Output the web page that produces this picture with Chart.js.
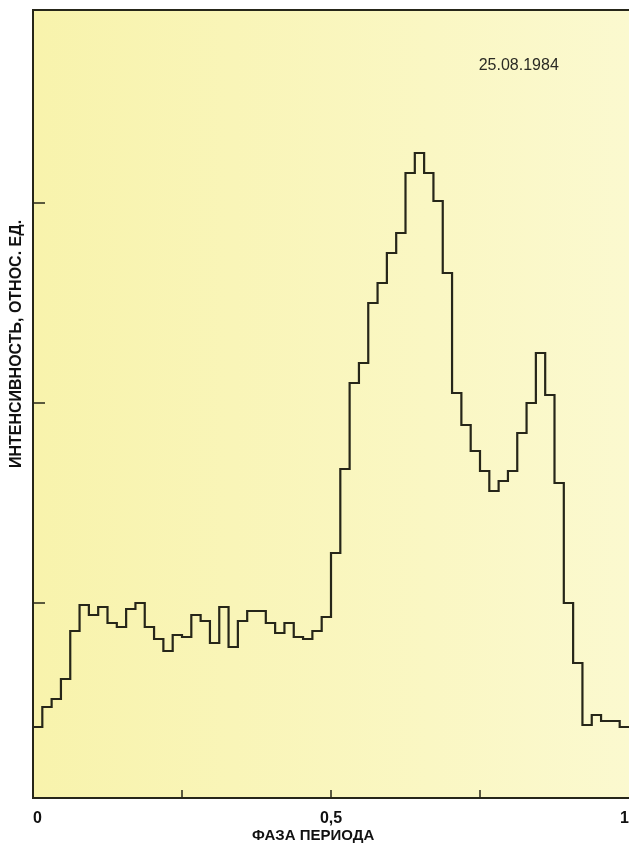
<!DOCTYPE html>
<html>
<head>
<meta charset="utf-8">
<style>
  html, body { margin: 0; padding: 0; background: #ffffff; }
  #wrap { width: 629px; height: 845px; }
</style>
<script src="https://cdn.jsdelivr.net/npm/chart.js@4.4.1/dist/chart.umd.min.js"></script>
</head>
<body>
<div id="wrap"><canvas id="phaseChart" width="629" height="845"></canvas></div>
<script>
// 64 phase bins over one period
const binCount = 64;

// relative intensity, bins 0..31 (phase 0 - 0.5)
const intensityFirstHalf = [
  0.38, 0.48, 0.52, 0.62, 0.86, 0.99, 0.94, 0.98,
  0.90, 0.88, 0.97, 1.00, 0.88, 0.82, 0.76, 0.84,
  0.83, 0.94, 0.91, 0.80, 0.98, 0.78, 0.91, 0.96,
  0.96, 0.90, 0.85, 0.90, 0.83, 0.82, 0.86, 0.93
];

// relative intensity, bins 32..63 (phase 0.5 - 1)
const intensitySecondHalf = [
  1.25, 1.67, 2.10, 2.20, 2.50, 2.60, 2.75, 2.85,
  3.15, 3.25, 3.15, 3.01, 2.65, 2.05, 1.89, 1.76,
  1.66, 1.56, 1.61, 1.66, 1.85, 2.00, 2.25, 2.04,
  1.60, 1.00, 0.70, 0.39, 0.44, 0.41, 0.41, 0.38
];

const xTickLabels = { 0: '0', 0.5: '0,5', 1: '1' };
const xTickMarks = [0.25, 0.5, 0.75];
const yTickMarks = [1, 2, 3];

const dateLabel = '25.08.1984';
const xTitle = 'ФАЗА ПЕРИОДА';
const yTitle = 'ИНТЕНСИВНОСТЬ, ОТНОС. ЕД.';

const intensity = intensityFirstHalf.concat(intensitySecondHalf);
const points = intensity.map((v, i) => ({ x: i / binCount, y: v }));
points.push({ x: 1, y: intensity[intensity.length - 1] });

const ink = '#262619';
const fontFamily = '"Liberation Sans", Arial, sans-serif';

const framePlugin = {
  id: 'frame',
  beforeDraw(chart) {
    const { ctx, chartArea: a } = chart;
    const g = ctx.createLinearGradient(a.left, 0, a.right, 0);
    g.addColorStop(0, '#f8f3ac');
    g.addColorStop(1, '#fbf9cf');
    ctx.save();
    ctx.fillStyle = g;
    ctx.fillRect(a.left, a.top, chart.width - a.left, a.bottom - a.top);
    ctx.restore();
  },
  afterDraw(chart) {
    const { ctx, chartArea: a, scales } = chart;
    ctx.save();
    ctx.strokeStyle = ink;
    ctx.lineWidth = 2;
    // top frame line
    ctx.beginPath();
    ctx.moveTo(a.left, a.top);
    ctx.lineTo(chart.width, a.top);
    ctx.stroke();
    // inward tick marks
    ctx.lineWidth = 1.5;
    yTickMarks.forEach(v => {
      const y = scales.y.getPixelForValue(v);
      ctx.beginPath();
      ctx.moveTo(a.left, y);
      ctx.lineTo(a.left + 12, y);
      ctx.stroke();
    });
    xTickMarks.forEach(v => {
      const x = scales.x.getPixelForValue(v);
      ctx.beginPath();
      ctx.moveTo(x, a.bottom);
      ctx.lineTo(x, a.bottom - 8);
      ctx.stroke();
    });
    // date label
    ctx.fillStyle = '#2a2a24';
    ctx.font = '16px ' + fontFamily;
    ctx.textAlign = 'center';
    ctx.textBaseline = 'middle';
    ctx.fillText(dateLabel, scales.x.getPixelForValue(0.815), 66);
    // x axis title, set slightly left of centre as in the original
    ctx.fillStyle = '#111111';
    ctx.font = 'bold 15px ' + fontFamily;
    ctx.fillText(xTitle, scales.x.getPixelForValue(0.47), 836);
    // y axis title
    ctx.font = 'bold 16px ' + fontFamily;
    ctx.translate(17, 344);
    ctx.rotate(-Math.PI / 2);
    ctx.fillText(yTitle, 0, 0);
    ctx.restore();
  }
};

new Chart(document.getElementById('phaseChart').getContext('2d'), {
  type: 'line',
  data: {
    datasets: [{
      data: points,
      stepped: 'before',
      borderColor: ink,
      borderWidth: 2.2,
      pointRadius: 0,
      fill: false
    }]
  },
  options: {
    responsive: false,
    animation: false,
    layout: { padding: { left: 33, top: 10, right: 0, bottom: 0 } },
    plugins: {
      legend: { display: false },
      tooltip: { enabled: false }
    },
    scales: {
      x: {
        type: 'linear',
        min: 0,
        max: 1,
        grid: { display: false, drawTicks: false },
        border: { display: true, color: ink, width: 2 },
        ticks: {
          stepSize: 0.25,
          padding: 11,
          align: 'inner',
          color: '#111111',
          font: { family: fontFamily, size: 16, weight: 'bold' },
          maxRotation: 0,
          callback: v => (v in xTickLabels ? xTickLabels[v] : '')
        },
        afterFit(scale) {
          scale.height = 47;
          scale.paddingLeft = 0;
          scale.paddingRight = 0;
        }
      },
      y: {
        min: 0.025,
        max: 3.965,
        grid: { display: false, drawTicks: false },
        border: { display: true, color: ink, width: 2 },
        ticks: { display: false }
      }
    }
  },
  plugins: [framePlugin]
});
</script>
</body>
</html>
